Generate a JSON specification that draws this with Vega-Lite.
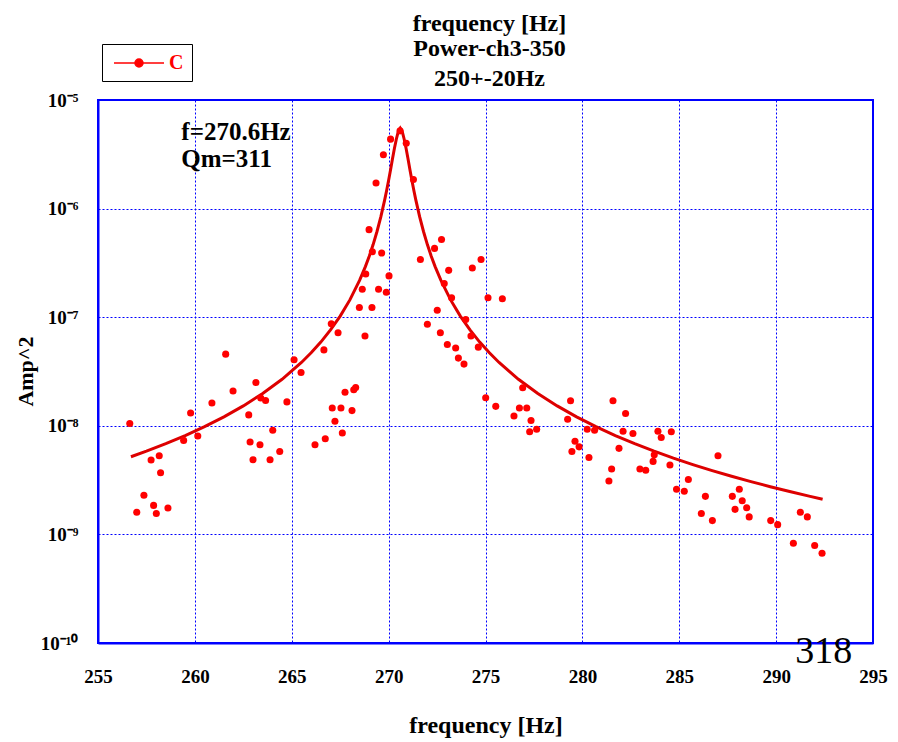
{
  "$schema": "https://vega.github.io/schema/vega-lite/v6.json",
  "width": 775,
  "height": 543,
  "autosize": {"type": "none"},
  "padding": {"left": 98, "top": 100, "right": 25, "bottom": 99},
  "background": "white",
  "title": {
    "text": ["frequency [Hz]", "Power-ch3-350"],
    "subtitle": "250+-20Hz",
    "font": "Liberation Serif",
    "fontSize": 24,
    "fontWeight": "bold",
    "color": "black",
    "lineHeight": 25,
    "subtitleFont": "Liberation Serif",
    "subtitleFontSize": 24,
    "subtitleFontWeight": "bold",
    "subtitleColor": "black",
    "subtitlePadding": 6,
    "anchor": "middle",
    "offset": -47,
    "dx": 4
  },
  "datasets": {
    "pts": [
      {"f": 256.64, "amp": 1.05e-8, "series": "C"},
      {"f": 257.0, "amp": 1.6e-9, "series": "C"},
      {"f": 257.37, "amp": 2.29e-9, "series": "C"},
      {"f": 257.74, "amp": 4.84e-9, "series": "C"},
      {"f": 257.87, "amp": 1.85e-9, "series": "C"},
      {"f": 258.01, "amp": 1.56e-9, "series": "C"},
      {"f": 258.16, "amp": 5.3e-9, "series": "C"},
      {"f": 258.23, "amp": 3.7e-9, "series": "C"},
      {"f": 258.61, "amp": 1.75e-9, "series": "C"},
      {"f": 259.42, "amp": 7.34e-9, "series": "C"},
      {"f": 259.78, "amp": 1.31e-8, "series": "C"},
      {"f": 260.15, "amp": 8.05e-9, "series": "C"},
      {"f": 260.88, "amp": 1.62e-8, "series": "C"},
      {"f": 261.59, "amp": 4.57e-8, "series": "C"},
      {"f": 261.97, "amp": 2.09e-8, "series": "C"},
      {"f": 262.78, "amp": 1.26e-8, "series": "C"},
      {"f": 262.85, "amp": 7.1e-9, "series": "C"},
      {"f": 263.0, "amp": 4.87e-9, "series": "C"},
      {"f": 263.15, "amp": 2.5e-8, "series": "C"},
      {"f": 263.36, "amp": 6.7e-9, "series": "C"},
      {"f": 263.4, "amp": 1.8e-8, "series": "C"},
      {"f": 263.65, "amp": 1.71e-8, "series": "C"},
      {"f": 263.88, "amp": 4.87e-9, "series": "C"},
      {"f": 264.02, "amp": 9.1e-9, "series": "C"},
      {"f": 264.38, "amp": 5.8e-9, "series": "C"},
      {"f": 264.75, "amp": 1.66e-8, "series": "C"},
      {"f": 265.12, "amp": 4.06e-8, "series": "C"},
      {"f": 265.48, "amp": 3.1e-8, "series": "C"},
      {"f": 266.2, "amp": 6.7e-9, "series": "C"},
      {"f": 266.66, "amp": 5.0e-8, "series": "C"},
      {"f": 266.73, "amp": 7.6e-9, "series": "C"},
      {"f": 267.04, "amp": 8.7e-8, "series": "C"},
      {"f": 267.09, "amp": 1.46e-8, "series": "C"},
      {"f": 267.23, "amp": 1.1e-8, "series": "C"},
      {"f": 267.39, "amp": 7.2e-8, "series": "C"},
      {"f": 267.54, "amp": 1.46e-8, "series": "C"},
      {"f": 267.61, "amp": 8.6e-9, "series": "C"},
      {"f": 267.75, "amp": 2.04e-8, "series": "C"},
      {"f": 268.11, "amp": 1.38e-8, "series": "C"},
      {"f": 268.2, "amp": 2.15e-8, "series": "C"},
      {"f": 268.3, "amp": 2.25e-8, "series": "C"},
      {"f": 268.49, "amp": 1.23e-7, "series": "C"},
      {"f": 268.64, "amp": 1.81e-7, "series": "C"},
      {"f": 268.78, "amp": 6.7e-8, "series": "C"},
      {"f": 268.82, "amp": 2.5e-7, "series": "C"},
      {"f": 268.99, "amp": 6.4e-7, "series": "C"},
      {"f": 269.14, "amp": 1.23e-7, "series": "C"},
      {"f": 269.16, "amp": 4.0e-7, "series": "C"},
      {"f": 269.35, "amp": 1.72e-6, "series": "C"},
      {"f": 269.48, "amp": 1.81e-7, "series": "C"},
      {"f": 269.64, "amp": 3.9e-7, "series": "C"},
      {"f": 269.73, "amp": 3.13e-6, "series": "C"},
      {"f": 269.88, "amp": 1.7e-7, "series": "C"},
      {"f": 270.02, "amp": 2.4e-7, "series": "C"},
      {"f": 270.1, "amp": 4.36e-6, "series": "C"},
      {"f": 270.59, "amp": 5.2e-6, "series": "C"},
      {"f": 270.91, "amp": 4.0e-6, "series": "C"},
      {"f": 271.28, "amp": 1.85e-6, "series": "C"},
      {"f": 271.64, "amp": 3.4e-7, "series": "C"},
      {"f": 272.0, "amp": 8.6e-8, "series": "C"},
      {"f": 272.37, "amp": 4.3e-7, "series": "C"},
      {"f": 272.51, "amp": 1.16e-7, "series": "C"},
      {"f": 272.67, "amp": 7.2e-8, "series": "C"},
      {"f": 272.73, "amp": 5.2e-7, "series": "C"},
      {"f": 272.87, "amp": 2.04e-7, "series": "C"},
      {"f": 273.03, "amp": 5.6e-8, "series": "C"},
      {"f": 273.1, "amp": 2.7e-7, "series": "C"},
      {"f": 273.25, "amp": 1.51e-7, "series": "C"},
      {"f": 273.46, "amp": 5.2e-8, "series": "C"},
      {"f": 273.6, "amp": 4.2e-8, "series": "C"},
      {"f": 273.89, "amp": 3.7e-8, "series": "C"},
      {"f": 273.98, "amp": 9.5e-8, "series": "C"},
      {"f": 274.25, "amp": 6.7e-8, "series": "C"},
      {"f": 274.32, "amp": 2.84e-7, "series": "C"},
      {"f": 274.63, "amp": 5.3e-8, "series": "C"},
      {"f": 274.77, "amp": 3.4e-7, "series": "C"},
      {"f": 275.01, "amp": 1.81e-8, "series": "C"},
      {"f": 275.13, "amp": 1.51e-7, "series": "C"},
      {"f": 275.53, "amp": 1.51e-8, "series": "C"},
      {"f": 275.87, "amp": 1.48e-7, "series": "C"},
      {"f": 276.47, "amp": 1.23e-8, "series": "C"},
      {"f": 276.75, "amp": 1.46e-8, "series": "C"},
      {"f": 276.92, "amp": 2.24e-8, "series": "C"},
      {"f": 277.13, "amp": 1.46e-8, "series": "C"},
      {"f": 277.28, "amp": 8.8e-9, "series": "C"},
      {"f": 277.35, "amp": 1.12e-8, "series": "C"},
      {"f": 277.64, "amp": 9.3e-9, "series": "C"},
      {"f": 279.24, "amp": 1.15e-8, "series": "C"},
      {"f": 279.39, "amp": 1.7e-8, "series": "C"},
      {"f": 279.46, "amp": 5.8e-9, "series": "C"},
      {"f": 279.62, "amp": 7.2e-9, "series": "C"},
      {"f": 279.83, "amp": 6.4e-9, "series": "C"},
      {"f": 280.25, "amp": 9.3e-9, "series": "C"},
      {"f": 280.34, "amp": 5.1e-9, "series": "C"},
      {"f": 280.63, "amp": 9.1e-9, "series": "C"},
      {"f": 281.37, "amp": 3.1e-9, "series": "C"},
      {"f": 281.51, "amp": 4.0e-9, "series": "C"},
      {"f": 281.58, "amp": 1.7e-8, "series": "C"},
      {"f": 281.89, "amp": 6.2e-9, "series": "C"},
      {"f": 282.1, "amp": 8.9e-9, "series": "C"},
      {"f": 282.23, "amp": 1.3e-8, "series": "C"},
      {"f": 282.61, "amp": 8.5e-9, "series": "C"},
      {"f": 282.97, "amp": 4.0e-9, "series": "C"},
      {"f": 283.27, "amp": 3.9e-9, "series": "C"},
      {"f": 283.65, "amp": 4.7e-9, "series": "C"},
      {"f": 283.71, "amp": 5.4e-9, "series": "C"},
      {"f": 283.9, "amp": 8.9e-9, "series": "C"},
      {"f": 284.07, "amp": 7.8e-9, "series": "C"},
      {"f": 284.52, "amp": 4.35e-9, "series": "C"},
      {"f": 284.59, "amp": 8.8e-9, "series": "C"},
      {"f": 284.86, "amp": 2.6e-9, "series": "C"},
      {"f": 285.26, "amp": 2.5e-9, "series": "C"},
      {"f": 285.47, "amp": 3.2e-9, "series": "C"},
      {"f": 286.14, "amp": 1.56e-9, "series": "C"},
      {"f": 286.35, "amp": 2.24e-9, "series": "C"},
      {"f": 286.71, "amp": 1.34e-9, "series": "C"},
      {"f": 287.0, "amp": 5.3e-9, "series": "C"},
      {"f": 287.74, "amp": 2.24e-9, "series": "C"},
      {"f": 287.88, "amp": 1.7e-9, "series": "C"},
      {"f": 288.1, "amp": 2.6e-9, "series": "C"},
      {"f": 288.25, "amp": 2.04e-9, "series": "C"},
      {"f": 288.48, "amp": 1.76e-9, "series": "C"},
      {"f": 288.61, "amp": 1.45e-9, "series": "C"},
      {"f": 289.72, "amp": 1.34e-9, "series": "C"},
      {"f": 290.08, "amp": 1.23e-9, "series": "C"},
      {"f": 290.89, "amp": 8.3e-10, "series": "C"},
      {"f": 291.25, "amp": 1.6e-9, "series": "C"},
      {"f": 291.61, "amp": 1.45e-9, "series": "C"},
      {"f": 291.99, "amp": 7.9e-10, "series": "C"},
      {"f": 292.37, "amp": 6.7e-10, "series": "C"}
    ],
    "fit": [
      {"f": 256.7, "amp": 5.19e-9},
      {"f": 257.5, "amp": 5.84e-9},
      {"f": 258.5, "amp": 6.84e-9},
      {"f": 259.5, "amp": 8.13e-9},
      {"f": 260.5, "amp": 9.81e-9},
      {"f": 261.5, "amp": 1.209e-8},
      {"f": 262.5, "amp": 1.525e-8},
      {"f": 263.5, "amp": 1.983e-8},
      {"f": 264.5, "amp": 2.682e-8},
      {"f": 265.5, "amp": 3.83e-8},
      {"f": 266.0, "amp": 4.70e-8},
      {"f": 266.5, "amp": 5.90e-8},
      {"f": 267.0, "amp": 7.63e-8},
      {"f": 267.5, "amp": 1.024e-7},
      {"f": 268.0, "amp": 1.443e-7},
      {"f": 268.5, "amp": 2.181e-7},
      {"f": 268.8, "amp": 2.925e-7},
      {"f": 269.0, "amp": 3.648e-7},
      {"f": 269.2, "amp": 4.666e-7},
      {"f": 269.4, "amp": 6.157e-7},
      {"f": 269.6, "amp": 8.434e-7},
      {"f": 269.8, "amp": 1.21e-6},
      {"f": 269.9, "amp": 1.477e-6},
      {"f": 270.0, "amp": 1.826e-6},
      {"f": 270.1, "amp": 2.284e-6},
      {"f": 270.2, "amp": 2.872e-6},
      {"f": 270.3, "amp": 3.592e-6},
      {"f": 270.4, "amp": 4.375e-6},
      {"f": 270.5, "amp": 5.15e-6},
      {"f": 270.6, "amp": 5.5e-6},
      {"f": 270.7, "amp": 5.15e-6},
      {"f": 270.8, "amp": 4.375e-6},
      {"f": 270.9, "amp": 3.592e-6},
      {"f": 271.0, "amp": 2.872e-6},
      {"f": 271.1, "amp": 2.284e-6},
      {"f": 271.2, "amp": 1.826e-6},
      {"f": 271.3, "amp": 1.477e-6},
      {"f": 271.4, "amp": 1.21e-6},
      {"f": 271.6, "amp": 8.434e-7},
      {"f": 271.8, "amp": 6.157e-7},
      {"f": 272.0, "amp": 4.666e-7},
      {"f": 272.2, "amp": 3.648e-7},
      {"f": 272.4, "amp": 2.925e-7},
      {"f": 272.7, "amp": 2.181e-7},
      {"f": 273.2, "amp": 1.443e-7},
      {"f": 273.7, "amp": 1.024e-7},
      {"f": 274.2, "amp": 7.63e-8},
      {"f": 274.7, "amp": 5.90e-8},
      {"f": 275.2, "amp": 4.70e-8},
      {"f": 275.7, "amp": 3.83e-8},
      {"f": 276.7, "amp": 2.682e-8},
      {"f": 277.7, "amp": 1.983e-8},
      {"f": 278.7, "amp": 1.525e-8},
      {"f": 279.7, "amp": 1.209e-8},
      {"f": 280.7, "amp": 9.81e-9},
      {"f": 281.7, "amp": 8.13e-9},
      {"f": 282.7, "amp": 6.84e-9},
      {"f": 283.7, "amp": 5.84e-9},
      {"f": 284.7, "amp": 5.04e-9},
      {"f": 285.7, "amp": 4.395e-9},
      {"f": 286.7, "amp": 3.867e-9},
      {"f": 287.7, "amp": 3.428e-9},
      {"f": 288.7, "amp": 3.06e-9},
      {"f": 289.7, "amp": 2.748e-9},
      {"f": 290.7, "amp": 2.482e-9},
      {"f": 291.7, "amp": 2.252e-9},
      {"f": 292.4, "amp": 2.11e-9}
    ],
    "notes": [
      {"label": "f=270.6Hz", "f": 259.3, "amp": 4.3e-6},
      {"label": "Qm=311", "f": 259.3, "amp": 2.43e-6}
    ],
    "page": [
      {"label": "318", "f": 292.46, "amp": 6.56e-11}
    ]
  },
  "encoding": {
    "x": {
      "field": "f",
      "type": "quantitative",
      "scale": {"domain": [255, 295], "nice": false, "zero": false},
      "axis": {
        "values": [255, 260, 265, 270, 275, 280, 285, 290, 295],
        "title": "frequency [Hz]",
        "titleY": 89,
        "titleFontSize": 24,
        "titleBaseline": "alphabetic",
        "labelFlush": false,
        "labelPadding": 24
      }
    },
    "y": {
      "field": "amp",
      "type": "quantitative",
      "scale": {"type": "log", "domain": [1e-10, 1e-5], "nice": false},
      "axis": {
        "values": [1e-10, 1e-9, 1e-8, 1e-7, 1e-6, 1e-5],
        "labelExpr": "datum.value > 5e-6 ? '10⁻⁵' : datum.value > 5e-7 ? '10⁻⁶' : datum.value > 5e-8 ? '10⁻⁷' : datum.value > 5e-9 ? '10⁻⁸' : datum.value > 5e-10 ? '10⁻⁹' : '10⁻¹⁰'",
        "title": "Amp^2",
        "titleX": -66,
        "titleY": 271,
        "titleBaseline": "alphabetic",
        "labelFlush": false,
        "labelPadding": 20
      }
    }
  },
  "layer": [
    {
      "data": {"name": "fit"},
      "mark": {"type": "line", "color": "#dd0000", "strokeWidth": 3, "clip": true}
    },
    {
      "data": {"name": "pts"},
      "mark": {"type": "point", "filled": true, "size": 50, "opacity": 1},
      "encoding": {
        "color": {
          "field": "series",
          "type": "nominal",
          "scale": {"domain": ["C"], "range": ["#ff0000"]},
          "legend": {
            "orient": "none",
            "legendX": 4,
            "legendY": -56,
            "title": null,
            "strokeColor": "black",
            "fillColor": "white",
            "padding": 8,
            "symbolType": "M-2.5,0L2.5,0M-0.4,0A0.4,0.4,0,1,1,0.4,0A0.4,0.4,0,1,1,-0.4,0Z",
            "symbolSize": 400,
            "symbolOffset": 18,
            "symbolStrokeColor": "#ff0000",
            "symbolFillColor": "#ff0000",
            "symbolStrokeWidth": 1.5,
            "labelOffset": 19,
            "labelFont": "Liberation Serif",
            "labelFontSize": 20,
            "labelFontWeight": "bold",
            "labelColor": "#ff0000",
            "encode": {
              "legend": {
                "update": {
                  "strokeWidth": {"value": 3}
                }
              },
              "symbols": {
                "update": {
                  "stroke": {"value": "#ff0000"},
                  "strokeWidth": {"value": 1.5},
                  "fill": {"value": "#ff0000"},
                  "opacity": {"value": 1}
                }
              }
            }
          }
        }
      }
    },
    {
      "data": {"name": "notes"},
      "mark": {"type": "text", "align": "left", "baseline": "alphabetic", "font": "Liberation Serif", "fontSize": 25, "fontWeight": "bold", "color": "black"},
      "encoding": {"text": {"field": "label"}}
    },
    {
      "data": {"name": "page"},
      "mark": {"type": "text", "align": "center", "baseline": "alphabetic", "font": "Liberation Serif", "fontSize": 38, "color": "black"},
      "encoding": {"text": {"field": "label"}}
    }
  ],
  "config": {
    "view": {"stroke": "#0000ff", "strokeWidth": 2},
    "axis": {
      "domainColor": "#0000ff",
      "domainWidth": 2,
      "grid": true,
      "gridColor": "#0000ff",
      "gridDash": [2, 2],
      "gridWidth": 1,
      "gridOpacity": 1,
      "ticks": false,
      "labelFont": "Liberation Serif",
      "labelFontSize": 19,
      "labelFontWeight": "bold",
      "labelColor": "black",
      "titleFont": "Liberation Serif",
      "titleFontSize": 22,
      "titleFontWeight": "bold",
      "titleColor": "black"
    }
  }
}
